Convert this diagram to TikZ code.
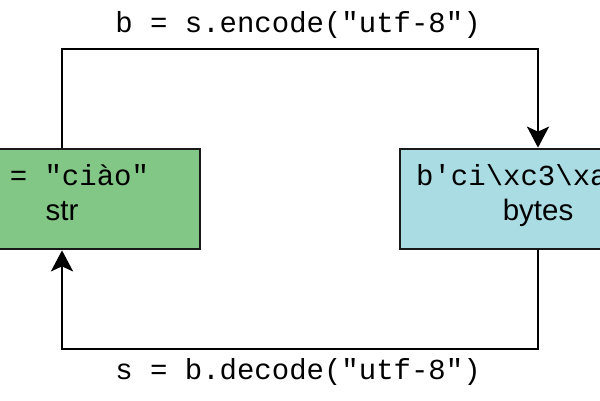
\documentclass[tikz,border=0pt]{standalone}
\usepackage{fontspec}
\setmonofont{Liberation Mono}
\setsansfont{Liberation Sans}
\usepackage{tikz}
\usetikzlibrary{arrows.meta}

\definecolor{strgreen}{HTML}{82C785}
\definecolor{bytescyan}{HTML}{A9DDE3}

\begin{document}
\begin{tikzpicture}[x=1pt,y=-1pt,->,>={Stealth[length=21pt,width=22pt,inset=5pt]},
  line width=2.7pt]
  \tikzset{typebox/.style={draw=black!90,minimum width=276pt,minimum height=100pt,
      inner sep=0pt},
    code/.style={font=\fontsize{29}{34}\selectfont\ttfamily,inner sep=0pt,anchor=base},
    kind/.style={font=\fontsize{29.5}{34}\selectfont\sffamily,inner sep=0pt,anchor=base}}
  \useasboundingbox (0,0) rectangle (600,400);
  \clip (0,0) rectangle (600,400);

  \node[typebox,fill=strgreen]  (str)   at (62,199)  {};
  \node[typebox,fill=bytescyan] (bytes) at (538,199) {};

  \node[code] (strval)   at (62,185)  {s = "ciào"};
  \node[kind] (strname)  at (62,220)  {str};
  \node[code] (bytesval) at (538,185) {b'ci\textbackslash xc3\textbackslash xa0o'};
  \node[kind] (bytesname) at (538,220) {bytes};

  \coordinate (encl) at (62,49);
  \coordinate (encr) at (538,49);
  \coordinate (decr) at (538,349);
  \coordinate (decl) at (62,349);

  \draw (str.north) -- (encl) -- (encr) -- (bytes.north);
  \draw (bytes.south) -- (decr) -- (decl) -- (str.south);

  \node[code] (enc) at (298,32)  {b = s.encode("utf-8")};
  \node[code] (dec) at (298,379) {s = b.decode("utf-8")};
\end{tikzpicture}
\end{document}
